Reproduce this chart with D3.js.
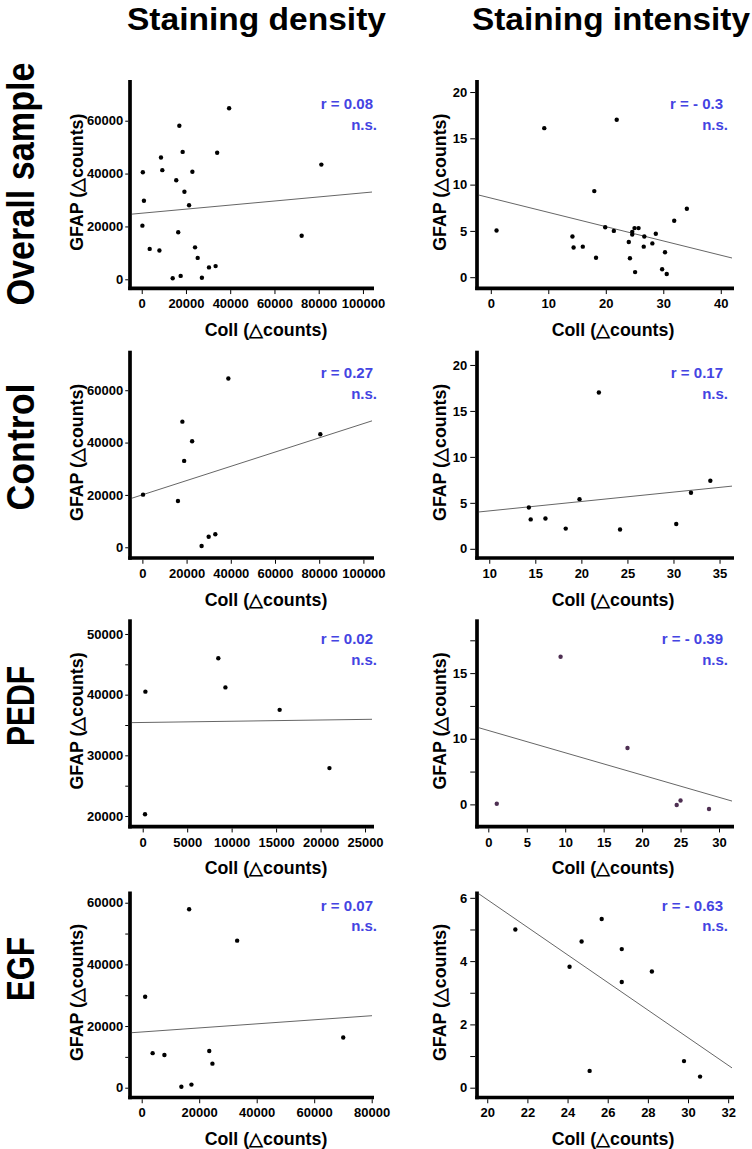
<!DOCTYPE html>
<meta charset="utf-8" />
<style>
  body { margin: 0; background: #fff; }
  svg { display: block; font-family: "Liberation Sans", Arial, sans-serif; font-weight: bold; }
  .tick text { font-size: 13px; font-weight: bold; fill: #000; }
  .tick line { stroke: #000; stroke-width: 1; }
  .axisline { stroke: #000; stroke-width: 3.7; }
  .fit { stroke: #666; stroke-width: 1; }
  .stat { fill: #4444e2; font-size: 15px; }
  .title { font-size: 17.8px; }
</style>
<body>
<script src="https://d3js.org/d3.v7.min.js"></script>
<script>
// column headers and row labels
var cols = ["Staining density", "Staining intensity"];
var rows = ["Overall sample", "Control", "PEDF", "EGF"];
var xTitle = "Coll (\u25B3counts)";
var yTitle = "GFAP (\u25B3counts)";

// overall sample
var overallDensityX = [39500, 17000, 18500, 34100, 8700, 500, 9300, 22900, 15600, 81200, 1000, 19300, 21400, 300, 16500, 72300, 3600, 8000, 24100, 25300, 33400, 30400, 14000, 17600, 27200];
var overallDensityY = [64700, 58100, 48200, 47900, 46100, 40500, 41300, 40700, 37500, 43400, 29700, 33100, 28000, 20300, 17800, 16500, 11500, 10900, 12100, 8100, 5000, 4500, 400, 1300, 600];
var overallIntensityX = [1.0, 9.3, 21.9, 18.0, 34.1, 31.9, 19.9, 21.4, 25.0, 25.7, 24.6, 24.6, 14.2, 14.4, 16.0, 18.3, 24.0, 26.7, 28.7, 26.6, 28.1, 24.2, 30.3, 25.1, 29.8, 30.6];
var overallIntensityY = [5.05, 16.1, 17.0, 9.3, 7.4, 6.1, 5.4, 5.0, 5.3, 5.3, 4.9, 4.6, 4.4, 3.2, 3.3, 2.1, 3.8, 4.4, 4.7, 3.3, 3.65, 2.05, 2.7, 0.55, 0.85, 0.35];

// control
var controlDensityX = [38900, 18100, 22500, 18900, 80500, 300, 16100, 26800, 30000, 33000];
var controlDensityY = [64500, 48000, 40500, 33000, 43200, 20100, 17700, 500, 4000, 5000];
var controlIntensityX = [21.9, 34.0, 31.9, 19.8, 14.3, 14.5, 16.1, 18.3, 24.2, 30.3];
var controlIntensityY = [17.0, 7.4, 6.1, 5.4, 4.5, 3.2, 3.3, 2.2, 2.1, 2.7];

// PEDF
var pedfDensityX = [300, 260, 8500, 9300, 15400, 21000];
var pedfDensityY = [40500, 20300, 46000, 41200, 37500, 27900];
var pedfIntensityX = [1.1, 9.4, 18.1, 24.5, 25.0, 28.7];
var pedfIntensityY = [5.05, 16.25, 9.3, 4.95, 5.3, 4.65];

// EGF
var egfDensityX = [16500, 33200, 1200, 70100, 3800, 7900, 23500, 24600, 13800, 17300];
var egfDensityY = [57900, 47700, 29500, 16300, 11200, 10600, 11900, 7800, 300, 1000];
var egfIntensityX = [21.4, 25.7, 24.7, 26.7, 24.1, 28.2, 26.7, 29.8, 25.1, 30.6];
var egfIntensityY = [5.0, 5.33, 4.62, 4.38, 3.82, 3.67, 3.34, 0.84, 0.53, 0.35];

// regression lines: [intercept, slope]
var fits = [[25000, 0.077], [8.55, -0.1544], [20040, 0.272], [3.10, 0.1023],
            [35415, 0.0204], [10.63, -0.1697], [18070, 0.066], [14.67, -0.4363]];
var rLabels = ["r = 0.08", "r = - 0.3", "r = 0.27", "r = 0.17", "r = 0.02", "r = - 0.39", "r = 0.07", "r = - 0.63"];
var nsLabel = "n.s.";

// tick values
var ticks100k = [0, 20000, 40000, 60000, 80000, 100000];
var ticks60k = [0, 20000, 40000, 60000];
var ticks0to40 = [0, 10, 20, 30, 40];
var ticks0to20 = [0, 5, 10, 15, 20];
var ticks10to35 = [10, 15, 20, 25, 30, 35];
var ticks25k = [0, 5000, 10000, 15000, 20000, 25000];
var ticks20to50k = [20000, 30000, 40000, 50000];
var minor20to50k = [25000, 35000, 45000];
var ticks0to30 = [0, 5, 10, 15, 20, 25, 30];
var pedfIntTicks = [5, 10, 15];
var pedfIntLabels = ["0", "10", "15"];
var minorPedfInt = [7.5, 12.5, 17.5];
var ticks80k = [0, 20000, 40000, 60000, 80000];
var minor60k = [10000, 30000, 50000];
var ticks20to32 = [20, 22, 24, 26, 28, 30, 32];
var ticks0to6 = [0, 2, 4, 6];
var minor0to6 = [1, 3, 5];

var panels = [
  {xs: overallDensityX, ys: overallDensityY, xT: ticks100k, yT: ticks60k, xDom: [-5300, 105000], yDom: [-3400, 75400]},
  {xs: overallIntensityX, ys: overallIntensityY, xT: ticks0to40, yT: ticks0to20, xDom: [-2.4, 42.3], yDom: [-1.2, 21.3]},
  {xs: controlDensityX, ys: controlDensityY, xT: ticks100k, yT: ticks60k, xDom: [-5600, 104800], yDom: [-4100, 75100]},
  {xs: controlIntensityX, ys: controlIntensityY, xT: ticks10to35, yT: ticks0to20, xDom: [8.67, 36.57], yDom: [-1, 21.55]},
  {xs: pedfDensityX, ys: pedfDensityY, xT: ticks25k, yT: ticks20to50k, yM: minor20to50k, xDom: [-1430, 26010], yDom: [18240, 52420]},
  {xs: pedfIntensityX, ys: pedfIntensityY, xT: ticks0to30, yT: pedfIntTicks, yL: pedfIntLabels, yM: minorPedfInt, xDom: [-1.47, 31.95], yDom: [3.3, 19.1], dot: "#4e2f52"},
  {xs: egfDensityX, ys: egfDensityY, xT: ticks80k, yT: ticks60k, yM: minor60k, xDom: [-4070, 80800], yDom: [-3180, 63640]},
  {xs: egfIntensityX, ys: egfIntensityY, xT: ticks20to32, yT: ticks0to6, yM: minor0to6, xDom: [19.49, 32.29], yDom: [-0.31, 6.2]}
];

// layout
var width = 752, height = 1149;
var colLeft = [130, 477], colRight = [374, 734];
var rowTop = [80, 350.7, 619.3, 891.5], rowBottom = [288.3, 558, 826.7, 1097.5];
var statBase = [109, 378, 644, 910.5];

var svg = d3.select("body").append("svg")
  .attr("width", width).attr("height", height)
  .style("background", "#fff");

// column headers
svg.selectAll(".header").data(cols).enter().append("text")
  .attr("class", "header")
  .attr("x", function(d, i) { return [256.5, 611][i]; })
  .attr("y", 30)
  .attr("text-anchor", "middle")
  .attr("textLength", function(d, i) { return [259, 278][i]; })
  .attr("lengthAdjust", "spacingAndGlyphs")
  .style("font-size", "32px")
  .text(function(d) { return d; });

// row labels
svg.selectAll(".rowlabel").data(rows).enter().append("text")
  .attr("class", "rowlabel")
  .attr("transform", function(d, i) {
    return "translate(34," + ([184, 447, 706, 969][i]) + ") rotate(-90)";
  })
  .attr("text-anchor", "middle")
  .attr("textLength", function(d, i) { return [243, 127, 80, 64][i]; })
  .attr("lengthAdjust", "spacingAndGlyphs")
  .style("font-size", "38px")
  .text(function(d) { return d; });

panels.forEach(function(p, i) {
  var row = Math.floor(i / 2), col = i % 2;
  var L = colLeft[col], R = colRight[col], T = rowTop[row], B = rowBottom[row];
  var x = d3.scaleLinear().domain(p.xDom).range([L, R]);
  var y = d3.scaleLinear().domain(p.yDom).range([B, T]);
  var g = svg.append("g");
  var yTick = col === 0 ? [3, 2] : [5, 3];

  // y axis
  var yAxis = d3.axisLeft(y).tickValues(p.yT).tickSize(yTick[0]).tickPadding(yTick[1])
    .tickFormat(function(d, k) { return p.yL ? p.yL[k] : String(d); });
  g.append("g").attr("transform", "translate(" + (L - 1.75) + ",0)")
    .call(yAxis).call(function(a) { a.select(".domain").remove(); });
  if (p.yM) {
    g.append("g").attr("transform", "translate(" + (L - 1.75) + ",0)")
      .call(d3.axisLeft(y).tickValues(p.yM).tickSize(yTick[0]).tickFormat(""))
      .call(function(a) { a.select(".domain").remove(); });
  }

  // x axis
  var xAxis = d3.axisBottom(x).tickValues(p.xT).tickSize(4).tickPadding(5)
    .tickFormat(function(d) { return String(d); });
  g.append("g").attr("transform", "translate(0," + (B + 1.75) + ")")
    .call(xAxis).call(function(a) { a.select(".domain").remove(); });

  // thick axis lines
  g.append("line").attr("class", "axisline")
    .attr("x1", L).attr("x2", L).attr("y1", T).attr("y2", B + 1.75);
  g.append("line").attr("class", "axisline")
    .attr("x1", L - 1.75).attr("x2", R).attr("y1", B).attr("y2", B);

  // regression line
  var fit = fits[i];
  var x0 = x.invert(L + 2), x1 = x.invert(R - 2);
  g.append("line").attr("class", "fit")
    .attr("x1", x(x0)).attr("y1", y(fit[0] + fit[1] * x0))
    .attr("x2", x(x1)).attr("y2", y(fit[0] + fit[1] * x1));

  // points
  g.selectAll("circle").data(p.xs).enter().append("circle")
    .attr("cx", function(d) { return x(d); })
    .attr("cy", function(d, k) { return y(p.ys[k]); })
    .attr("r", 2.2)
    .style("fill", p.dot || "#000");

  // stats
  g.append("text").attr("class", "stat")
    .attr("x", col === 0 ? 373 : 723).attr("y", statBase[row])
    .attr("text-anchor", "end").text(rLabels[i]);
  g.append("text").attr("class", "stat")
    .attr("x", col === 0 ? 377 : 728).attr("y", statBase[row] + 20.5)
    .attr("text-anchor", "end").text(nsLabel);

  // axis titles
  g.append("text").attr("class", "title")
    .attr("x", col === 0 ? 266 : 613).attr("y", B + 47.5)
    .attr("text-anchor", "middle").text(xTitle);
  g.append("text").attr("class", "title")
    .attr("transform", "translate(" + (col === 0 ? 83 : 446) + "," + ((T + B) / 2 - 2) + ") rotate(-90)")
    .attr("text-anchor", "middle").text(yTitle);
});
</script>
</body>
